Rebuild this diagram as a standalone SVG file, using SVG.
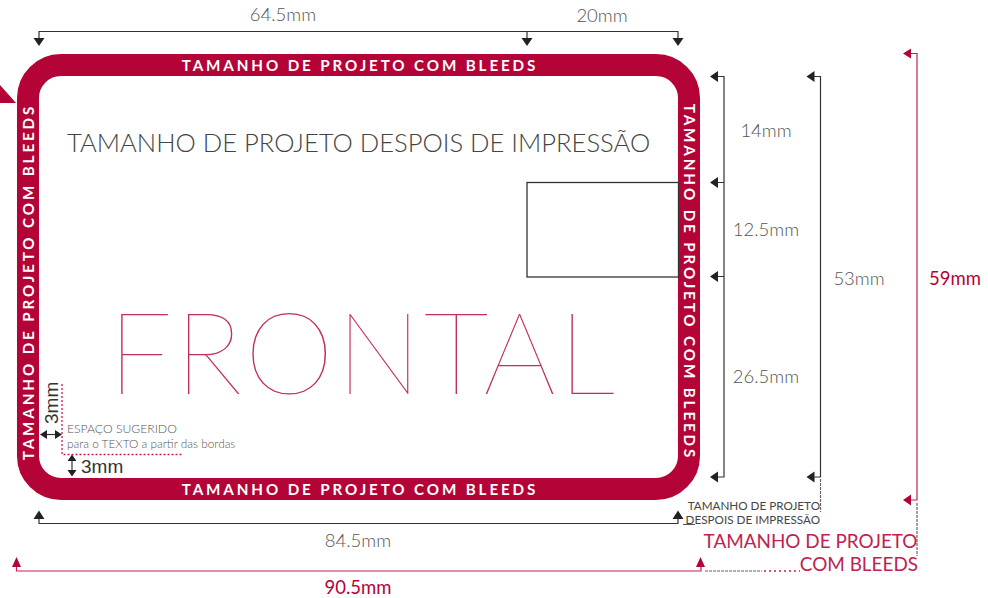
<svg xmlns="http://www.w3.org/2000/svg" width="988" height="598" viewBox="0 0 988 598">
<style>
text{font-family:Lato,"Open Sans","Liberation Sans",sans-serif}
.band{font-size:15.200px;font-weight:700;fill:#fff;letter-spacing:2.880px;text-anchor:middle}
.dim{font-size:18.500px;font-weight:300;fill:#555;text-anchor:middle}
.red{font-size:18.500px;font-weight:400;fill:#b40336;text-anchor:middle}
.k{fill:none;stroke:#333;stroke-width:1.200}
.r{fill:none;stroke:#c0224f;stroke-width:1.200}
.dot{fill:none;stroke:#d4145a;stroke-width:1.300;stroke-dasharray:2 2}
.ka{fill:#222}.ra{fill:#b40336}
</style>
<g id="frame">
<rect x="28" y="65" width="661" height="424" rx="33" ry="33" fill="#fff" stroke="#b40336" stroke-width="22"/>
<path d="M0 85L16 103H0Z" fill="#b40336"/>
<text class="band" x="360" y="70.500">TAMANHO DE PROJETO COM BLEEDS</text>
<text class="band" x="360" y="494.500">TAMANHO DE PROJETO COM BLEEDS</text>
<text class="band" transform="translate(33.500,282) rotate(-90)">TAMANHO DE PROJETO COM BLEEDS</text>
<text class="band" transform="translate(684,282) rotate(90)">TAMANHO DE PROJETO COM BLEEDS</text>
</g>
<g id="titles">
<text x="67" y="152" font-size="25.600" font-weight="300" fill="#444">TAMANHO DE PROJETO DESPOIS DE IMPRESSÃO</text>
<text x="108" y="394" font-size="114" font-weight="100" fill="#c0305c" letter-spacing="2.400">FRONTAL</text>
</g>
<g id="box"><rect x="527" y="182.500" width="151.500" height="94.500" fill="none" stroke="#333" stroke-width="1.300"/></g>
<g id="connectors">
<path class="k" d="M39 42V31.500H678V42M527 31.500V42"/>
<path class="ka" d="M33.500 38H44.500L39 46Z M521.500 38H532.500L527 46Z M672.500 38H683.500L678 46Z"/>
<path class="k" d="M39 516V523.500H678V516"/>
<path class="ka" d="M33.500 519H44.500L39 510.500Z M672.500 519H683.500L678 510.500Z"/>
<path class="r" d="M16.500 564V571H701V564"/>
<path class="ra" d="M12 567H21L16.500 557Z M696 567H705L700.500 557Z"/>
<path class="k" d="M717 76.500H724V477H717M717 182.500H724M717 276.500H724"/>
<path class="ka" d="M710 76.500L718 71V82Z M710 182.500L718 177V188Z M710 276.500L718 271V282Z M710 477L718 471.500V482.500Z"/>
<path class="k" d="M813 76.500H820.500V477H813"/>
<path class="ka" d="M806.500 76.500L814.500 71V82Z M806.500 477L814.500 471.500V482.500Z"/>
<path class="r" d="M909 53.500H917V500H909"/>
<path class="ra" d="M903 53.500L911 48.500V58.500Z M903 500L911 494.500V505.500Z"/>
<path class="dot" d="M62 384V454.500H182"/>
<path d="M820.500 479V512M917 503V556" fill="none" stroke="#666" stroke-width="1.200" stroke-dasharray="3 1"/>
<path d="M683 524.500H695" fill="none" stroke="#555" stroke-width="1"/>
<path d="M705 571H762" fill="none" stroke="#666" stroke-width="1.200" stroke-dasharray="3 1"/>
<path d="M764 571H800" fill="none" stroke="#c0224f" stroke-width="1.300" stroke-dasharray="2 3"/>
<path d="M45 434.500H58" class="k"/>
<path class="ka" d="M40 434.500L47 430V439Z M62 434.500L55 430V439Z"/>
<path d="M72 458V472" class="k"/>
<path class="ka" d="M72 454.500L76.500 461H67.500Z M72 476.500L76.500 470H67.500Z"/>
</g>
<g id="labels">
<text class="dim" x="283" y="21">64.5mm</text>
<text class="dim" x="602" y="22">20mm</text>
<text class="dim" x="766" y="137">14mm</text>
<text class="dim" x="766" y="236">12.5mm</text>
<text class="dim" x="766" y="383">26.5mm</text>
<text class="dim" x="859" y="285">53mm</text>
<text class="red" x="955" y="285">59mm</text>
<text class="dim" x="358" y="547">84.5mm</text>
<text class="red" x="358" y="594">90.5mm</text>
<text x="67" y="433" font-size="12.200" font-weight="300" fill="#555">ESPAÇO SUGERIDO</text>
<text x="67" y="448" font-size="11.800" font-weight="300" fill="#555">para o TEXTO a partir das bordas</text>
<text x="81" y="473" font-size="19" fill="#333" style="font-family:'Liberation Sans',sans-serif">3mm</text>
<text transform="translate(58,424) rotate(-90)" font-size="19" fill="#333" style="font-family:'Liberation Sans',sans-serif">3mm</text>
<text x="820" y="510" font-size="11.700" fill="#444" text-anchor="end">TAMANHO DE PROJETO</text>
<text x="820" y="524" font-size="11.700" fill="#444" text-anchor="end">DESPOIS DE IMPRESSÃO</text>
<text x="917.500" y="548" font-size="18.900" fill="#c0224f" text-anchor="end">TAMANHO DE PROJETO</text>
<text x="918" y="571" font-size="18.900" fill="#c0224f" text-anchor="end">COM BLEEDS</text>
</g>
</svg>
